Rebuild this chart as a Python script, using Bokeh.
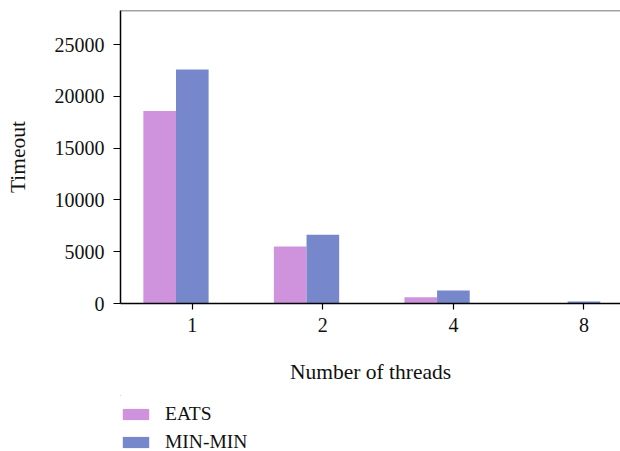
from bokeh.plotting import figure
from bokeh.layouts import column
from bokeh.models import ColumnDataSource, Span, Legend, LegendItem, FixedTicker, Range1d
from bokeh.embed import file_html
from bokeh.resources import INLINE

threads = ["1", "2", "4", "8"]
eats = [18600, 5500, 600, 0]
minmin = [22600, 6650, 1250, 200]
y_ticks = [0, 5000, 10000, 15000, 20000, 25000]
series = ["EATS", "MIN-MIN"]
colors = ["#CF93DD", "#7787CB"]

pos = list(range(len(threads)))
src = ColumnDataSource(dict(
    x_eats=[i - 0.25 for i in pos],
    x_min=[i + 0.0 for i in pos],
    eats=eats,
    minmin=minmin,
))

FONT = "Liberation Serif"

p = figure(width=620, height=395, output_backend="svg", toolbar_location=None,
           x_range=(-0.55, 3.28), y_range=(0, 28300),
           min_border_left=120, min_border_right=0, min_border_top=10, min_border_bottom=92)
p.outline_line_color = None
p.grid.visible = False
p.background_fill_color = "white"
p.border_fill_color = "white"

p.vbar(x="x_eats", top="eats", width=0.25, source=src, fill_color=colors[0], line_color=None)
p.vbar(x="x_min", top="minmin", width=0.25, source=src, fill_color=colors[1], line_color=None)

top = Span(location=28300, dimension="width", line_color="#444444", line_width=1.5)
p.add_layout(top)

xa = p.xaxis[0]
xa.ticker = FixedTicker(ticks=pos)
xa.major_label_overrides = {i: t for i, t in zip(pos, threads)}
xa.axis_label = "Number of threads"
xa.minor_tick_line_color = None
xa.major_tick_in = 0
xa.major_tick_out = 6
xa.major_label_standoff = 8
xa.axis_label_standoff = 25

ya = p.yaxis[0]
ya.ticker = FixedTicker(ticks=y_ticks)
ya.axis_label = "Timeout"
ya.minor_tick_line_color = None
ya.major_tick_in = 0
ya.major_tick_out = 7
ya.major_label_standoff = 9
ya.axis_label_standoff = 22

for ax in (xa, ya):
    ax.axis_line_color = "black"
    ax.axis_line_width = 1.5
    ax.major_tick_line_color = "black"
    ax.major_tick_line_width = 1.2
    ax.major_label_text_font = FONT
    ax.major_label_text_font_size = "20px"
    ax.major_label_text_color = "#111111"
    ax.axis_label_text_font = FONT
    ax.axis_label_text_font_size = "21.5px"
    ax.axis_label_text_font_style = "normal"
    ax.axis_label_text_color = "#111111"

# legend strip below the chart (its zero-height bars draw nothing)
lg = figure(width=620, height=56, output_backend="svg", toolbar_location=None,
            x_range=Range1d(100, 101), y_range=Range1d(0, 1),
            min_border_left=120, min_border_right=0, min_border_top=0, min_border_bottom=0)
lg.axis.visible = False
lg.grid.visible = False
lg.outline_line_color = None
lr = [lg.vbar(x="x_eats", top="eats", bottom="eats", width=0.25, source=src,
              fill_color=colors[0], line_color=None),
      lg.vbar(x="x_min", top="minmin", bottom="minmin", width=0.25, source=src,
              fill_color=colors[1], line_color=None)]

legend = Legend(items=[LegendItem(label=s, renderers=[r]) for s, r in zip(series, lr)],
                location=(-1, -2), orientation="vertical",
                glyph_width=33, glyph_height=14, label_height=14,
                spacing=6, padding=0, margin=0, label_standoff=13,
                border_line_color=None, background_fill_alpha=0,
                label_text_font=FONT, label_text_font_size="19.5px",
                label_text_line_height=1.0,
                label_text_color="#111111")
lg.add_layout(legend, "center")

layout = column(p, lg, spacing=0)
open("out.html", "w").write(file_html(layout, INLINE))
